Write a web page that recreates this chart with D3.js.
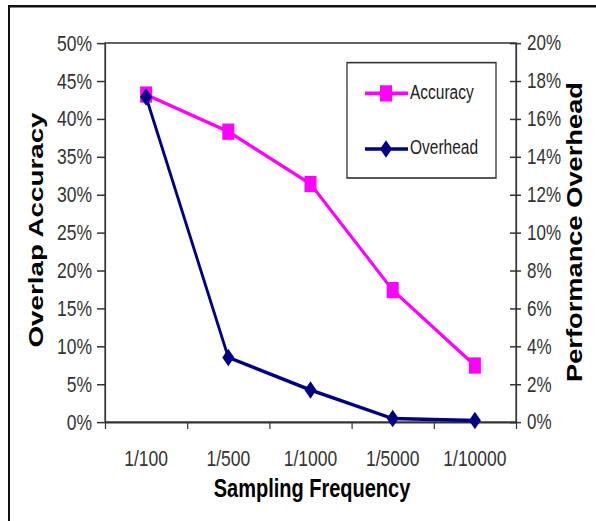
<!DOCTYPE html>
<html>
<head>
<meta charset="utf-8">
<script src="https://cdn.jsdelivr.net/npm/d3@7"></script>
<style>
  body { margin: 0; background: #fff; }
  text { font-family: "Liberation Sans", Arial, sans-serif; }
</style>
</head>
<body>
<div id="chart"></div>
<script>
// data
const categories = ['1/100', '1/500', '1/1000', '1/5000', '1/10000'];
const accuracy = [0.432, 0.383, 0.314, 0.174, 0.0745];
const overhead = [0.1715, 0.0341, 0.0169, 0.0018, 0.0008];
const leftTicks = [0, 0.05, 0.10, 0.15, 0.20, 0.25, 0.30, 0.35, 0.40, 0.45, 0.50];
const rightTicks = [0, 0.02, 0.04, 0.06, 0.08, 0.10, 0.12, 0.14, 0.16, 0.18, 0.20];
const seriesNames = ['Accuracy', 'Overhead'];
const seriesColors = ['#ff00ff', '#000080'];

// the original picture is stretched vertically, so draw in a squashed space
const W = 596, H = 521, S = 1.25;
const innerH = H / S;
const margin = {top: 34.4, right: 80, bottom: innerH - 337.6, left: 105};
const width = W - margin.left - margin.right;
const height = innerH - margin.top - margin.bottom;

const svg = d3.select('#chart').append('svg')
    .attr('width', W)
    .attr('height', H);

const root = svg.append('g')
    .attr('transform', 'scale(1,' + S + ')');

// outer frame (runs off the right and bottom edge)
root.append('rect')
    .attr('x', 9)
    .attr('y', 5)
    .attr('width', 700)
    .attr('height', 600)
    .attr('fill', 'none')
    .attr('stroke', '#111')
    .attr('stroke-width', 2);

const g = root.append('g')
    .attr('transform', 'translate(' + margin.left + ',' + margin.top + ')');

const x = d3.scaleBand()
    .domain(categories)
    .range([0, width]);

const xEdge = d3.scaleLinear()
    .domain([0, categories.length])
    .range([0, width]);

const yL = d3.scaleLinear().domain([0, 0.5]).range([height, 0]);
const yR = d3.scaleLinear().domain([0, 0.2]).range([height, 0]);

// plot area border
g.append('rect')
    .attr('width', width)
    .attr('height', height)
    .attr('fill', 'none')
    .attr('stroke', '#333')
    .attr('stroke-width', 1.2);

// left axis
const leftAxis = g.append('g')
    .call(d3.axisLeft(yL)
        .tickValues(leftTicks)
        .tickSize(8)
        .tickSizeOuter(0)
        .tickPadding(5)
        .tickFormat(d3.format('.0%')));

// right axis, ticks cross the line
const rightAxis = g.append('g')
    .attr('transform', 'translate(' + width + ',0)')
    .call(d3.axisRight(yR)
        .tickValues(rightTicks)
        .tickSize(5)
        .tickSizeOuter(0)
        .tickPadding(6)
        .tickFormat(d3.format('.0%')));
rightAxis.selectAll('.tick line').attr('x1', -6);

// x axis: ticks between categories, labels under the centres
const xTicks = g.append('g')
    .attr('transform', 'translate(0,' + height + ')')
    .call(d3.axisBottom(xEdge)
        .tickValues(d3.range(categories.length + 1))
        .tickSize(7 / S)
        .tickSizeOuter(0)
        .tickFormat(''));

const xLabels = g.append('g')
    .attr('transform', 'translate(0,' + height + ')')
    .call(d3.axisBottom(x).tickSize(0).tickPadding(0));
xLabels.select('.domain').remove();
xLabels.selectAll('text')
    .attr('y', 372.8 - margin.top - height)
    .attr('dy', 0)
    .style('font-size', '17.5px');

[leftAxis, rightAxis, xTicks].forEach(a => {
    a.select('.domain').attr('stroke', '#333').attr('stroke-width', 1.2);
    a.selectAll('.tick line').attr('stroke', '#333').attr('stroke-width', 1.2);
});
leftAxis.selectAll('text').style('font-size', '17.5px');
rightAxis.selectAll('text').style('font-size', '17px');
g.selectAll('.tick text').attr('fill', '#333');

// markers
const square = (cx, cy) => 'M' + (cx - 6) + ',' + (cy - 6.5) + 'h12v13h-12Z';
const diamond = (cx, cy) => 'M' + cx + ',' + (cy - 7) + 'L' + (cx + 6) + ',' + cy +
    'L' + cx + ',' + (cy + 7) + 'L' + (cx - 6) + ',' + cy + 'Z';

const accLine = d3.line()
    .x((d, i) => x(categories[i]) + x.bandwidth() / 2)
    .y(d => yL(d));
const ovhLine = d3.line()
    .x((d, i) => x(categories[i]) + x.bandwidth() / 2)
    .y(d => yR(d));

g.append('path')
    .datum(accuracy)
    .attr('fill', 'none')
    .attr('stroke', seriesColors[0])
    .attr('stroke-width', 2.8)
    .attr('d', accLine);

g.selectAll('.acc')
    .data(accuracy)
    .enter().append('path')
    .attr('class', 'acc')
    .attr('fill', seriesColors[0])
    .attr('d', (d, i) => square(x(categories[i]) + x.bandwidth() / 2, yL(d)));

g.append('path')
    .datum(overhead)
    .attr('fill', 'none')
    .attr('stroke', seriesColors[1])
    .attr('stroke-width', 2.8)
    .attr('d', ovhLine);

g.selectAll('.ovh')
    .data(overhead)
    .enter().append('path')
    .attr('class', 'ovh')
    .attr('fill', seriesColors[1])
    .attr('d', (d, i) => diamond(x(categories[i]) + x.bandwidth() / 2, yR(d)));

// axis titles
root.append('text')
    .attr('transform', 'translate(43,184) rotate(-90)')
    .attr('text-anchor', 'middle')
    .attr('textLength', 188)
    .attr('lengthAdjust', 'spacingAndGlyphs')
    .style('font-size', '21px')
    .style('font-weight', 'bold')
    .text('Overlap Accuracy');

root.append('text')
    .attr('transform', 'translate(582,185.6) rotate(-90)')
    .attr('text-anchor', 'middle')
    .attr('textLength', 240)
    .attr('lengthAdjust', 'spacingAndGlyphs')
    .style('font-size', '21.5px')
    .style('font-weight', 'bold')
    .text('Performance Overhead');

root.append('text')
    .attr('x', 312)
    .attr('y', 397.6)
    .attr('text-anchor', 'middle')
    .style('font-size', '20px')
    .style('font-weight', 'bold')
    .text('Sampling Frequency');

// legend
const legend = root.append('g');
legend.append('rect')
    .attr('x', 347)
    .attr('y', 50.1)
    .attr('width', 149)
    .attr('height', 92.3)
    .attr('fill', '#fff')
    .attr('stroke', '#333')
    .attr('stroke-width', 1.3);

const legendY = [74.7, 119.2];
seriesNames.forEach((name, i) => {
    const ly = legendY[i];
    legend.append('line')
        .attr('x1', 365).attr('x2', 408)
        .attr('y1', ly).attr('y2', ly)
        .attr('stroke', seriesColors[i])
        .attr('stroke-width', 2.8);
    legend.append('path')
        .attr('fill', seriesColors[i])
        .attr('d', i === 0 ? square(386, ly) : diamond(386, ly));
    legend.append('text')
        .attr('x', 410)
        .attr('y', ly + 4.4)
        .attr('fill', '#222')
        .style('font-size', '15.5px')
        .text(name);
});
</script>
</body>
</html>
